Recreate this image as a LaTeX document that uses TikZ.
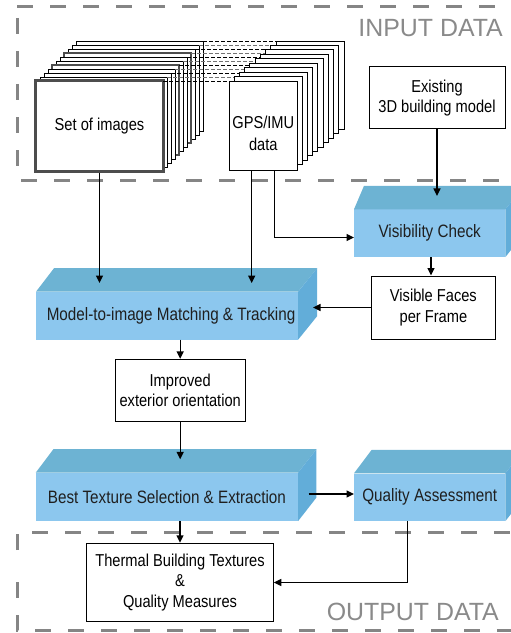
\documentclass[tikz,border=0pt]{standalone}
\usepackage{fontspec}
\setmainfont{Liberation Sans}[FakeStretch=0.85]
\newfontfamily\lblfont{Liberation Sans}
\usetikzlibrary{arrows.meta,calc}
\definecolor{bfront}{HTML}{8CC7EE}
\definecolor{btop}{HTML}{6DB3D3}
\definecolor{bside}{HTML}{62ADD9}
\definecolor{frameg}{HTML}{858585}
\definecolor{lblg}{HTML}{8A8A8A}
\definecolor{imgedge}{HTML}{4D4D4D}
\newcommand\bluebox[8]{% name, x, y, w, h, dx-left, dx-right, text
  \node[bfrontst, minimum width=#4bp, minimum height=#5bp] (#1) at (#2,#3) {#8};
  \fill[btop] (#1.north west) -- ++(#6,-23.5) -- ($(#1.north east)+(#7,-23.5)$) -- (#1.north east) -- cycle;
  \fill[bside] (#1.north east) -- ++(#7,-23.5) -- ($(#1.south east)+(#7,-23.5)$) -- (#1.south east) -- cycle;
}
\begin{document}
\begin{tikzpicture}[x=1bp,y=-1bp,
  wbox/.style={draw=black, line width=1bp, fill=white, align=center, inner sep=0pt,
    font=\fontsize{17.3}{20.5}\selectfont},
  bfrontst/.style={fill=bfront, align=center, inner sep=0pt, anchor=north west,
    font=\fontsize{18}{20}\selectfont, text=black!88},
  conn/.style={line width=1.4bp, -{Triangle[length=7.5bp,width=7bp]}},
  dframe/.style={draw=frameg, line width=3bp, dash pattern=on 16bp off 17bp},
  thinf/.style={fill=white, draw=black, line width=0.9bp},
  thickf/.style={fill=white, draw=imgedge, line width=2.4bp},
  dlink/.style={line width=0.8bp, dash pattern=on 4bp off 2bp},
  lbl/.style={text=lblg, inner sep=0pt, font=\lblfont\fontsize{25}{25}\selectfont},
]
\useasboundingbox (0,0) rectangle (511,633);

% ---------- dashed frames ----------
\draw[dframe] (17,18) -- (17,180);
\draw[dframe] (17,7) -- (511,7);
\draw[dframe] (21,180) -- (511,180);
\draw[dframe] (17,550) -- (17,532) -- (511,532);
\draw[dframe] (17,582) -- (17,630) -- (511,630);
\node[lbl, anchor=base east] (inlbl) at (503,37) {INPUT DATA};
\node[lbl, anchor=base east] (outlbl) at (499,620) {OUTPUT DATA};

% ---------- image stack ----------
\foreach \k/\st in {0/thinf,1/thinf,2/thinf,3/thickf,4/thinf,5/thinf,6/thickf,7/thinf,8/thinf,9/thinf}{
  \draw[\st] (76-4*\k,41+4*\k) rectangle ++(127,90);
}
\node[draw=imgedge, line width=3bp, fill=white, minimum width=127bp, minimum height=90bp,
  inner sep=0pt, font=\fontsize{17.3}{20.5}\selectfont] (imgs) at (99.5,126) {Set of images};
% dashed links between stacks
\foreach \k in {0,...,10}{
  \pgfmathsetmacro\yy{41+4*\k}
  \pgfmathsetmacro\xx{203-4*\k}
  \ifodd\k
    \draw[dlink, draw=black!55] (\xx,\yy) -- (300,\yy);
  \else
    \draw[dlink, draw=black] (\xx,\yy) -- (300,\yy);
  \fi
}
% GPS stack
\foreach \j in {0,...,8}{
  \draw[thinf] (276-5.22*\j,41+4.44*\j) rectangle ++(68,88.3);
}
\node[wbox, minimum width=68bp, minimum height=88.3bp] (gps) at (263.3,125.85) {};
\node[align=center, inner sep=0pt, font=\fontsize{17.3}{22}\selectfont] (gpstext) at (263.3,133) {GPS/IMU\\data};

% ---------- other white boxes ----------
\node[wbox, minimum width=136bp, minimum height=62bp] (ex) at (437,98) {Existing\\3D building model};
\node[wbox, minimum width=123.3bp, minimum height=63bp] (vf) at (433.4,307.5) {Visible Faces\\per Frame};
\node[wbox, minimum width=130.3bp, minimum height=62.4bp] (imp) at (180.2,390.5) {Improved\\exterior orientation};
\node[wbox, minimum width=186.6bp, minimum height=78.4bp, font=\fontsize{17.3}{21}\selectfont] (th) at (180,582.5)
  {Thermal Building Textures\\\&\\Quality Measures};

% ---------- blue boxes ----------
\bluebox{vc}{354}{209.3}{151}{47.4}{10}{18.5}{Visibility Check}
\bluebox{mm}{36}{291.7}{261.7}{47.6}{18}{19}{\hspace*{8bp}Model-to-image Matching \& Tracking}
\bluebox{bt}{35.7}{472.7}{262}{48}{17.7}{18.3}{Best Texture Selection \& Extraction}
\bluebox{qa}{354}{473.3}{151}{47.4}{17.7}{18.3}{Quality Assessment}

% ---------- helper coordinates ----------
\coordinate (gx1) at (251.7,0);
\coordinate (gx2) at (274.3,0);
\coordinate (vfx) at (431,0);
\coordinate (mmside) at (313,0);
\coordinate (btside) at (308.7,494);
\coordinate (qax) at (407.3,0);

% ---------- connectors ----------
\draw[conn] (imgs.south) -- ([yshift=8.7bp]imgs.south |- mm.north);
\draw[conn] (gps.south -| gx1) -- ([yshift=8.7bp]gx1 |- mm.north);
\draw[conn] (gps.south -| gx2) |- ([yshift=-4.3bp]vc.west);
\draw[conn] (ex.south) -- ([yshift=13.3bp]ex.south |- vc.north);
\draw[conn] (vc.south -| vfx) -- (vf.north -| vfx);
\draw[conn] (vf.west) -- (vf.west -| mmside);
\draw[conn] (mm.south -| imp.north) -- (imp.north);
\draw[conn] (imp.south) -- ([yshift=13.4bp]imp.south |- bt.north);
\draw[conn] (btside) -- (btside -| qa.west);
\draw[conn] (bt.south -| th.north) -- (th.north);
\draw[conn] (qa.south -| qax) |- (th.east);
\end{tikzpicture}
\end{document}
